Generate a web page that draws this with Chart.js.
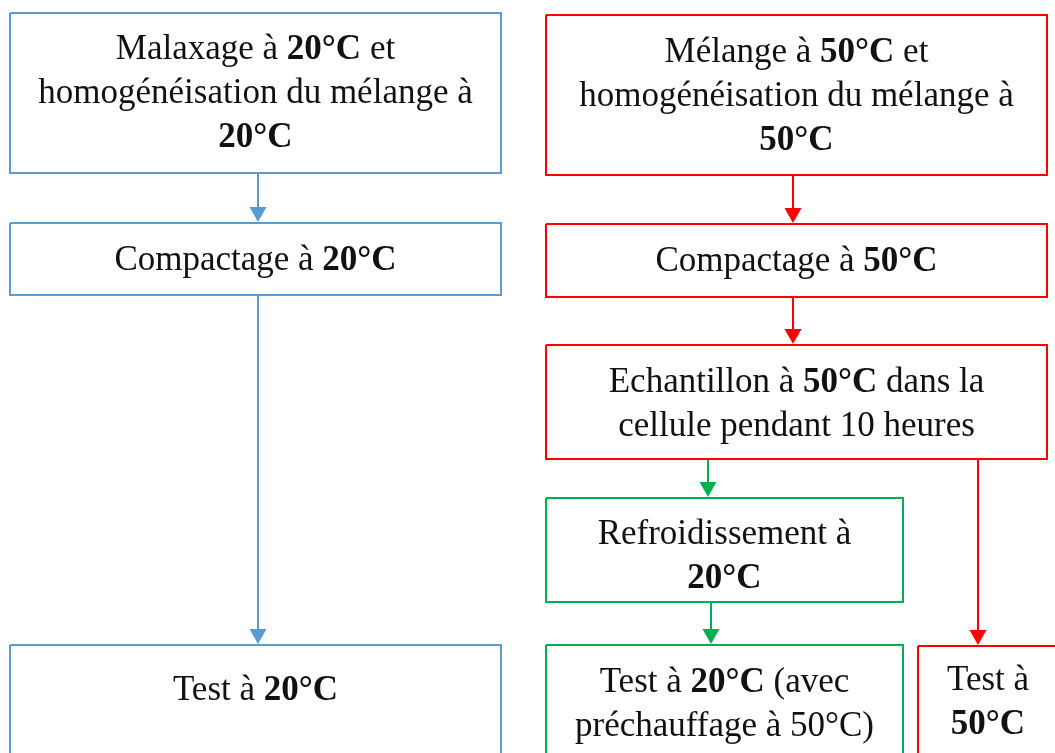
<!DOCTYPE html>
<html lang="fr">
<head>
  <meta charset="UTF-8">
  <title>Protocole de préparation des échantillons</title>
  <style>
    html, body { margin: 0; padding: 0; background: #fff; }
    #wrap { width: 1055px; height: 753px; }
  </style>
</head>
<body>
<div id="wrap"><canvas id="flow"></canvas></div>

<script src="https://cdn.jsdelivr.net/npm/chart.js"></script>
<script>
// nodes of the flowchart (texte, "**...**" = gras)
const nodeLabels = [
  ["Malaxage à **20°C** et", "homogénéisation du mélange à", "**20°C**"],
  ["Compactage à **20°C**"],
  ["Test à **20°C**"],
  ["Mélange à **50°C** et", "homogénéisation du mélange à", "**50°C**"],
  ["Compactage à **50°C**"],
  ["Echantillon à **50°C** dans la", "cellule pendant 10 heures"],
  ["Refroidissement à", "**20°C**"],
  ["Test à **20°C** (avec", "préchauffage à 50°C)"],
  ["Test à", "**50°C**"]
];
const nodeBranch = ["cold", "cold", "cold", "hot", "hot", "hot", "cool", "cool", "hot"];
const nodeLeft   = [10, 10, 10, 546, 546, 546, 546, 546, 918];
const nodeRight  = [501, 501, 501, 1047, 1047, 1047, 903, 903, 1058];
const nodeTop    = [13, 223, 645, 15, 224, 345, 498, 645, 646];
const nodeBottom = [173, 295, 800, 175, 297, 459, 602, 800, 800];
const nodeTextY  = [92, 259, 689, 95, 260, 403, 555, 703, 701];

// arrows
const arrowBranch = ["cold", "cold", "hot", "hot", "hot", "cool", "cool"];
const arrowX      = [258, 258, 793, 793, 978, 708, 711];
const arrowFrom   = [173, 295, 175, 297, 459, 459, 602];
const arrowTo     = [222, 644, 223, 344, 645, 497, 644];

const branchColor = { cold: "#5B9BD5", hot: "#FF0000", cool: "#00B050" };

let datasets = [];
nodeLabels.forEach(function (lab, i) {
  datasets.push({
    data: [
      { x: nodeLeft[i], y: nodeTop[i] },
      { x: nodeRight[i], y: nodeTop[i] },
      { x: nodeRight[i], y: nodeBottom[i] },
      { x: nodeLeft[i], y: nodeBottom[i] },
      { x: nodeLeft[i], y: nodeTop[i] }
    ],
    showLine: true,
    borderColor: branchColor[nodeBranch[i]],
    borderWidth: 2,
    pointRadius: 0,
    tension: 0,
    node: i
  });
});
arrowX.forEach(function (x, i) {
  datasets.push({
    data: [{ x: x, y: arrowFrom[i] }, { x: x, y: arrowTo[i] - 6 }],
    showLine: true,
    borderColor: branchColor[arrowBranch[i]],
    borderWidth: 2,
    pointRadius: 0,
    arrow: i
  });
});

// arrowheads at the end of each arrow
const arrowHeads = {
  id: "arrowHeads",
  afterDatasetsDraw(chart) {
    const ctx = chart.ctx;
    const ys = chart.scales.y;
    chart.data.datasets.forEach(function (ds, di) {
      if (ds.arrow === undefined) return;
      const pts = chart.getDatasetMeta(di).data;
      const px = pts[pts.length - 1].x;
      const tip = ys.getPixelForValue(arrowTo[ds.arrow]);
      ctx.save();
      ctx.fillStyle = ds.borderColor;
      ctx.beginPath();
      ctx.moveTo(px, tip);
      ctx.lineTo(px - 8.5, tip - 15);
      ctx.lineTo(px + 8.5, tip - 15);
      ctx.closePath();
      ctx.fill();
      ctx.restore();
    });
  }
};

// text inside the boxes, with bold parts
const boxText = {
  id: "boxText",
  afterDatasetsDraw(chart) {
    const ctx = chart.ctx;
    const xs = chart.scales.x, ys = chart.scales.y;
    const size = 35, lh = 44;
    const regular = size + "px 'Liberation Serif', 'Times New Roman', serif";
    const bold = "bold " + regular;
    ctx.save();
    ctx.fillStyle = "#111";
    ctx.textBaseline = "alphabetic";
    ctx.textAlign = "left";
    nodeLabels.forEach(function (lines, i) {
      const cx = (xs.getPixelForValue(nodeLeft[i]) + xs.getPixelForValue(nodeRight[i])) / 2;
      const cy = ys.getPixelForValue(nodeTextY[i]);
      lines.forEach(function (line, li) {
        const parts = line.split("**");
        let w = 0;
        parts.forEach(function (p, k) {
          ctx.font = k % 2 ? bold : regular;
          w += ctx.measureText(p).width;
        });
        let x = cx - w / 2;
        const y = cy + 11 + (li - (lines.length - 1) / 2) * lh;
        parts.forEach(function (p, k) {
          ctx.font = k % 2 ? bold : regular;
          ctx.fillText(p, x, y);
          x += ctx.measureText(p).width;
        });
      });
    });
    ctx.restore();
  }
};

new Chart(document.getElementById("flow"), {
  type: "scatter",
  data: { datasets: datasets },
  options: {
    responsive: true,
    maintainAspectRatio: false,
    animation: false,
    layout: { padding: 0 },
    plugins: { legend: { display: false }, tooltip: { enabled: false } },
    scales: {
      x: { type: "linear", min: 0, max: 1055, display: false },
      y: { type: "linear", min: 0, max: 753, reverse: true, display: false }
    }
  },
  plugins: [arrowHeads, boxText]
});
</script>
</body>
</html>
